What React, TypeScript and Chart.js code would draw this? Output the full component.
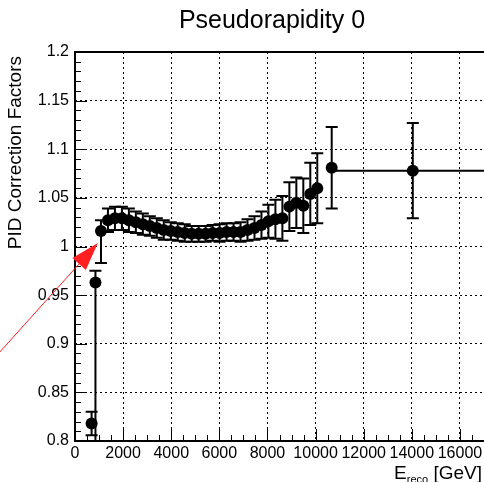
import React, { useEffect, useRef } from "react";
import { Chart, registerables } from "chart.js";
Chart.register(...registerables);

// ---- data ----
const energy = [690, 850, 1080, 1370, 1660, 1950, 2240, 2530, 2820, 3110, 3400, 3690, 3980, 4270, 4560, 4850, 5140, 5430, 5720, 6010, 6300, 6590, 6880, 7170, 7460, 7750, 8040, 8330, 8620, 8910, 9200, 9490, 9780, 10070, 10670, 14040];
const factor = [0.818, 0.963, 1.016, 1.027, 1.029, 1.029, 1.027, 1.025, 1.023, 1.021, 1.019, 1.017, 1.016, 1.015, 1.014, 1.013, 1.013, 1.013, 1.014, 1.014, 1.015, 1.015, 1.015, 1.017, 1.019, 1.022, 1.026, 1.028, 1.029, 1.041, 1.045, 1.042, 1.054, 1.06, 1.081, 1.078];
const errUp = [0.012, 0.012, 0.011, 0.012, 0.012, 0.012, 0.012, 0.011, 0.011, 0.01, 0.01, 0.01, 0.009, 0.009, 0.009, 0.008, 0.008, 0.008, 0.008, 0.009, 0.009, 0.009, 0.01, 0.011, 0.012, 0.014, 0.017, 0.02, 0.023, 0.025, 0.026, 0.028, 0.032, 0.036, 0.042, 0.049];
const errDown = [0.012, 0.17, 0.033, 0.012, 0.012, 0.012, 0.012, 0.011, 0.011, 0.01, 0.01, 0.01, 0.009, 0.009, 0.009, 0.008, 0.008, 0.008, 0.008, 0.009, 0.009, 0.009, 0.01, 0.011, 0.012, 0.014, 0.017, 0.02, 0.023, 0.025, 0.026, 0.028, 0.032, 0.036, 0.042, 0.049];
const binHalfWidth = [80, 80, 100, 145, 145, 145, 145, 145, 145, 145, 145, 145, 145, 145, 145, 145, 145, 145, 145, 145, 145, 145, 145, 145, 145, 145, 145, 145, 145, 145, 145, 145, 145, 145, 150, 3340];

const xMin = 0;
const xMax = 17000;
const yMin = 0.8;
const yMax = 1.2;
const xTickValues = [0, 2000, 4000, 6000, 8000, 10000, 12000, 14000, 16000];
const yTickValues = [0.8, 0.85, 0.9, 0.95, 1, 1.05, 1.1, 1.15, 1.2];

const titleText = "Pseudorapidity 0";
const yTitle = "PID Correction Factors";
const xTitleMain = "E";
const xTitleSub = "reco";
const xTitleUnit = " [GeV]";

// red arrow (data coordinates): tail -> tip
const arrowTail = [-3125, 0.8915];
const arrowTip = [950, 1.0035];

const FONT = "'Liberation Sans', Arimo, Arial, Helvetica, sans-serif";

export default function App() {
  const ref = useRef<HTMLCanvasElement>(null);

  useEffect(() => {
    const canvas = ref.current!;

    const errorBars = {
      id: "errorBars",
      beforeDatasetsDraw(chart: any) {
        const { ctx, chartArea: a, scales } = chart;
        const x = scales.x, y = scales.y;
        ctx.save();
        ctx.beginPath();
        ctx.rect(a.left, a.top, a.right - a.left, a.bottom - a.top);
        ctx.clip();
        ctx.strokeStyle = "#000";
        ctx.lineWidth = 2;
        const cap = 6;
        for (let i = 0; i < energy.length; i++) {
          const px = x.getPixelForValue(energy[i]);
          const py = y.getPixelForValue(factor[i]);
          const yt = y.getPixelForValue(factor[i] + errUp[i]);
          const yb = y.getPixelForValue(factor[i] - errDown[i]);
          const xl = x.getPixelForValue(energy[i] - binHalfWidth[i]);
          const xr = x.getPixelForValue(energy[i] + binHalfWidth[i]);
          ctx.beginPath();
          ctx.moveTo(px, yt);
          ctx.lineTo(px, yb);
          ctx.moveTo(xl, py);
          ctx.lineTo(xr, py);
          ctx.moveTo(px - cap, yt);
          ctx.lineTo(px + cap, yt);
          ctx.moveTo(px - cap, yb);
          ctx.lineTo(px + cap, yb);
          ctx.stroke();
        }
        ctx.restore();
      },
    };

    const frame = {
      id: "frame",
      afterDatasetsDraw(chart: any) {
        const { ctx, chartArea: a, scales } = chart;
        const x = scales.x, y = scales.y;
        ctx.save();
        ctx.strokeStyle = "#000";
        ctx.lineWidth = 1;
        for (let k = 0; k <= 40; k++) {
          const v = yMin + k * 0.01;
          const py = Math.round(y.getPixelForValue(v)) + 0.5;
          const len = k % 5 === 0 ? 12 : 6;
          ctx.beginPath();
          ctx.moveTo(a.left, py);
          ctx.lineTo(a.left + len, py);
          ctx.stroke();
        }
        for (let k = 0; k * 500 <= xMax; k++) {
          const v = k * 500;
          const px = Math.round(x.getPixelForValue(v)) + 0.5;
          const len = k % 4 === 0 ? 12 : 6;
          ctx.beginPath();
          ctx.moveTo(px, a.bottom);
          ctx.lineTo(px, a.bottom - len);
          ctx.stroke();
        }
        ctx.lineWidth = 2;
        ctx.beginPath();
        ctx.moveTo(a.right + 2, a.top);
        ctx.lineTo(a.left, a.top);
        ctx.lineTo(a.left, a.bottom);
        ctx.lineTo(a.right + 2, a.bottom);
        ctx.stroke();
        ctx.restore();
      },
      afterDraw(chart: any) {
        const { ctx, chartArea: a, scales } = chart;
        const x = scales.x, y = scales.y;
        ctx.save();
        ctx.fillStyle = "#000";
        ctx.font = `25px ${FONT}`;
        ctx.textAlign = "center";
        ctx.textBaseline = "alphabetic";
        ctx.fillText(titleText, 272, 28);
        ctx.save();
        ctx.translate(21, a.top + 4);
        ctx.rotate(-Math.PI / 2);
        ctx.font = `19px ${FONT}`;
        ctx.textAlign = "right";
        ctx.fillText(yTitle, 0, 0);
        ctx.restore();
        ctx.textAlign = "left";
        ctx.font = `19px ${FONT}`;
        const wUnit = ctx.measureText(xTitleUnit).width;
        const wE = ctx.measureText(xTitleMain).width;
        ctx.font = `11px ${FONT}`;
        const wSub = ctx.measureText(xTitleSub).width;
        const xEnd = 482;
        const xStart = xEnd - wUnit - wSub - wE;
        ctx.font = `19px ${FONT}`;
        ctx.fillText(xTitleMain, xStart, 479);
        ctx.fillText(xTitleUnit, xStart + wE + wSub, 479);
        ctx.font = `11px ${FONT}`;
        ctx.fillText(xTitleSub, xStart + wE, 483);
        const tx = x.getPixelForValue(arrowTip[0]);
        const ty = y.getPixelForValue(arrowTip[1]);
        const sx = x.getPixelForValue(arrowTail[0]);
        const sy = y.getPixelForValue(arrowTail[1]);
        const dx = sx - tx, dy = sy - ty;
        const L = Math.hypot(dx, dy);
        const ux = dx / L, uy = dy / L;
        const head = 28, hw = 9;
        const bx = tx + ux * head, by = ty + uy * head;
        ctx.strokeStyle = "#ff2020";
        ctx.fillStyle = "#ff2020";
        ctx.lineWidth = 1;
        ctx.beginPath();
        ctx.moveTo(sx, sy);
        ctx.lineTo(bx, by);
        ctx.stroke();
        ctx.beginPath();
        ctx.moveTo(tx, ty);
        ctx.lineTo(bx - uy * hw, by + ux * hw);
        ctx.lineTo(bx + uy * hw, by - ux * hw);
        ctx.closePath();
        ctx.fill();
        ctx.restore();
      },
    };

    const chart = new Chart(canvas, {
      type: "scatter",
      data: {
        datasets: [
          {
            data: energy.map((e, i) => ({ x: e, y: factor[i] })),
            pointRadius: 6,
            pointHoverRadius: 6,
            pointBackgroundColor: "#000",
            pointBorderColor: "#000",
            pointBorderWidth: 0,
            showLine: false,
          },
        ],
      },
      options: {
        responsive: false,
        animation: false,
        events: [],
        layout: { autoPadding: false, padding: { top: 52, right: 0, left: 0, bottom: 0 } },
        plugins: {
          legend: { display: false },
          tooltip: { enabled: false },
          title: { display: false },
        },
        scales: {
          x: {
            type: "linear",
            min: xMin,
            max: xMax,
            afterBuildTicks: (s: any) => {
              s.ticks = xTickValues.map((v) => ({ value: v }));
            },
            afterFit: (s: any) => {
              s.height = 41;
              s.paddingLeft = 0;
              s.paddingRight = 0;
            },
            ticks: {
              autoSkip: false,
              maxRotation: 0,
              minRotation: 0,
              color: "#000",
              padding: 3,
              font: { family: FONT, size: 16 },
              callback: (v: any) => String(Math.round(Number(v))),
            },
            grid: { color: "#000", lineWidth: 1, drawTicks: false },
            border: { display: false, dash: [2, 3] },
          },
          y: {
            type: "linear",
            min: yMin,
            max: yMax,
            afterBuildTicks: (s: any) => {
              s.ticks = yTickValues.map((v) => ({ value: v }));
            },
            afterFit: (s: any) => {
              s.width = 75;
              s.paddingTop = 0;
              s.paddingBottom = 0;
            },
            ticks: {
              autoSkip: false,
              color: "#000",
              padding: 6,
              font: { family: FONT, size: 16 },
              callback: (v: any) => String(parseFloat(Number(v).toFixed(2))),
            },
            grid: { color: "#000", lineWidth: 1, drawTicks: false },
            border: { display: false, dash: [2, 3] },
          },
        },
      },
      plugins: [errorBars, frame],
    });
    return () => chart.destroy();
  }, []);

  return (
    <div style={{ position: "absolute", left: 0, top: 0, width: 484, height: 482, overflow: "hidden", background: "#fff" }}>
      <canvas ref={ref} width={484} height={482} style={{ display: "block" }} />
    </div>
  );
}
